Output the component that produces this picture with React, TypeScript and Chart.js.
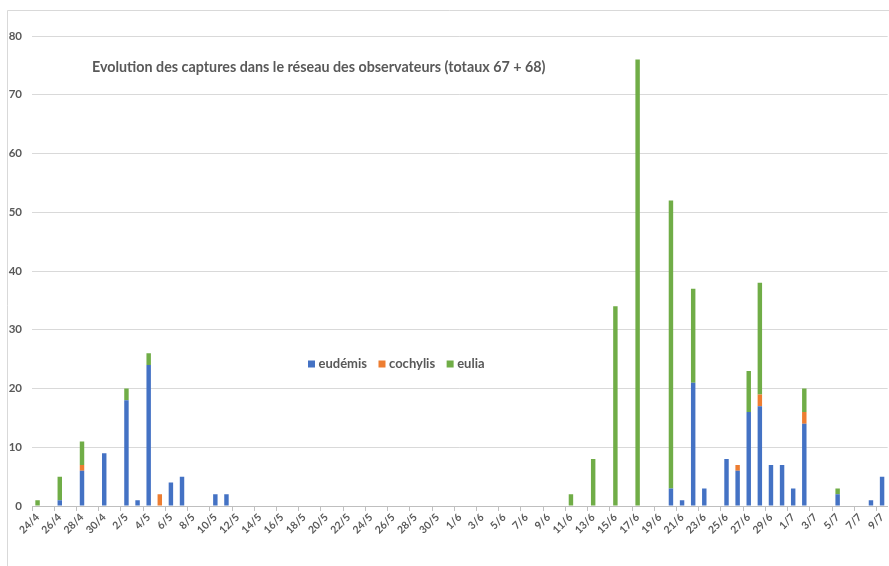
import React, { useEffect, useRef } from "react";
import { Chart, registerables } from "chart.js";

Chart.register(...registerables);

// Daily categories, 24 April to 9 July
const dates = [
  "24/4", "25/4", "26/4", "27/4", "28/4", "29/4", "30/4",
  "1/5", "2/5", "3/5", "4/5", "5/5", "6/5", "7/5",
  "8/5", "9/5", "10/5", "11/5", "12/5", "13/5", "14/5",
  "15/5", "16/5", "17/5", "18/5", "19/5", "20/5", "21/5",
  "22/5", "23/5", "24/5", "25/5", "26/5", "27/5", "28/5",
  "29/5", "30/5", "31/5", "1/6", "2/6", "3/6", "4/6",
  "5/6", "6/6", "7/6", "8/6", "9/6", "10/6", "11/6",
  "12/6", "13/6", "14/6", "15/6", "16/6", "17/6", "18/6",
  "19/6", "20/6", "21/6", "22/6", "23/6", "24/6", "25/6",
  "26/6", "27/6", "28/6", "29/6", "30/6", "1/7", "2/7",
  "3/7", "4/7", "5/7", "6/7", "7/7", "8/7", "9/7",
];

// Captures per day, one row per week
const eudemis = [
  0, 0, 1, 0, 6, 0, 9,
  0, 18, 1, 24, 0, 4, 5,
  0, 0, 2, 2, 0, 0, 0,
  0, 0, 0, 0, 0, 0, 0,
  0, 0, 0, 0, 0, 0, 0,
  0, 0, 0, 0, 0, 0, 0,
  0, 0, 0, 0, 0, 0, 0,
  0, 0, 0, 0, 0, 0, 0,
  0, 3, 1, 21, 3, 0, 8,
  6, 16, 17, 7, 7, 3, 14,
  0, 0, 2, 0, 0, 1, 5,
];

const cochylis = [
  0, 0, 0, 0, 1, 0, 0,
  0, 0, 0, 0, 2, 0, 0,
  0, 0, 0, 0, 0, 0, 0,
  0, 0, 0, 0, 0, 0, 0,
  0, 0, 0, 0, 0, 0, 0,
  0, 0, 0, 0, 0, 0, 0,
  0, 0, 0, 0, 0, 0, 0,
  0, 0, 0, 0, 0, 0, 0,
  0, 0, 0, 0, 0, 0, 0,
  1, 0, 2, 0, 0, 0, 2,
  0, 0, 0, 0, 0, 0, 0,
];

const eulia = [
  1, 0, 4, 0, 4, 0, 0,
  0, 2, 0, 2, 0, 0, 0,
  0, 0, 0, 0, 0, 0, 0,
  0, 0, 0, 0, 0, 0, 0,
  0, 0, 0, 0, 0, 0, 0,
  0, 0, 0, 0, 0, 0, 0,
  0, 0, 0, 0, 0, 0, 2,
  0, 8, 0, 34, 0, 76, 0,
  0, 49, 0, 16, 0, 0, 0,
  0, 7, 19, 0, 0, 0, 4,
  0, 0, 1, 0, 0, 0, 0,
];

const seriesNames = ["eudémis", "cochylis", "eulia"];
const seriesColors = ["#4472C4", "#ED7D31", "#70AD47"];
const seriesValues = [eudemis, cochylis, eulia];

const chartTitle =
  "Evolution des captures dans le réseau des observateurs (totaux 67 + 68)";

const FONT = "Lato, 'Open Sans', sans-serif";
const TEXT = "#595959";
const GRID = "#D9D9D9";

// Frame, in-plot title and in-plot legend
const decorPlugin = {
  id: "decor",
  beforeDraw(chart: any) {
    const { ctx, width, height } = chart;
    ctx.save();
    ctx.fillStyle = "#ffffff";
    ctx.fillRect(0, 0, width, height);
    ctx.strokeStyle = GRID;
    ctx.lineWidth = 1;
    ctx.beginPath();
    ctx.moveTo(7.5, height);
    ctx.lineTo(7.5, 10.5);
    ctx.lineTo(width, 10.5);
    ctx.stroke();
    ctx.restore();
  },
  afterDraw(chart: any) {
    const { ctx } = chart;
    ctx.save();
    ctx.fillStyle = TEXT;
    ctx.textBaseline = "middle";
    ctx.textAlign = "left";
    ctx.font = `bold 14.3px ${FONT}`;
    ctx.fillText(chartTitle, 92, 67);

    ctx.font = `bold 13px ${FONT}`;
    let x = 308;
    const y = 364;
    seriesNames.forEach((name, i) => {
      ctx.fillStyle = seriesColors[i];
      ctx.fillRect(x, y - 3.5, 7, 7);
      x += 10.5;
      ctx.fillStyle = TEXT;
      ctx.fillText(name, x, y);
      x += ctx.measureText(name).width + 11.5;
    });
    ctx.restore();
  },
};

export default function App() {
  const canvasRef = useRef<HTMLCanvasElement>(null);

  useEffect(() => {
    if (!canvasRef.current) return;
    const chart = new Chart(canvasRef.current, {
      type: "bar",
      data: {
        labels: dates,
        datasets: seriesNames.map((name, i) => ({
          label: name,
          data: seriesValues[i],
          backgroundColor: seriesColors[i],
          borderWidth: 0,
          categoryPercentage: 1,
          barPercentage: 0.4,
        })),
      },
      options: {
        animation: false,
        responsive: true,
        maintainAspectRatio: false,
        layout: { padding: { left: 0, top: 36, right: 1, bottom: 0 } },
        plugins: {
          legend: { display: false },
          title: { display: false },
          tooltip: { enabled: false },
        },
        scales: {
          x: {
            stacked: true,
            offset: true,
            grid: {
              offset: true,
              drawOnChartArea: false,
              drawTicks: true,
              tickLength: 5,
              color: (c: any) => (c.index % 2 === 0 ? "#BFBFBF" : "rgba(0,0,0,0)"),
            },
            border: { display: true, color: "#BFBFBF" },
            ticks: {
              autoSkip: false,
              minRotation: 45,
              maxRotation: 45,
              padding: 0,
              color: TEXT,
              font: { family: FONT, size: 10.5, weight: "bold" },
              callback: (_v: any, i: number) => (i % 2 === 0 ? dates[i] : ""),
            },
            afterFit: (scale: any) => {
              scale.height = 94;
            },
          },
          y: {
            stacked: true,
            min: 0,
            max: 80,
            grid: { color: GRID, drawTicks: false },
            border: { display: false },
            ticks: {
              stepSize: 10,
              padding: 10,
              color: TEXT,
              font: { family: FONT, size: 11.5, weight: "bold" },
            },
            afterFit: (scale: any) => {
              scale.width = 32;
            },
          },
        },
      },
      plugins: [decorPlugin],
    });
    return () => chart.destroy();
  }, []);

  return (
    <div
      style={{
        position: "fixed",
        left: 0,
        top: 0,
        width: 889,
        height: 566,
        overflow: "hidden",
        background: "#ffffff",
      }}
    >
      <div style={{ position: "relative", width: 891, height: 600 }}>
        <canvas ref={canvasRef} />
      </div>
    </div>
  );
}
